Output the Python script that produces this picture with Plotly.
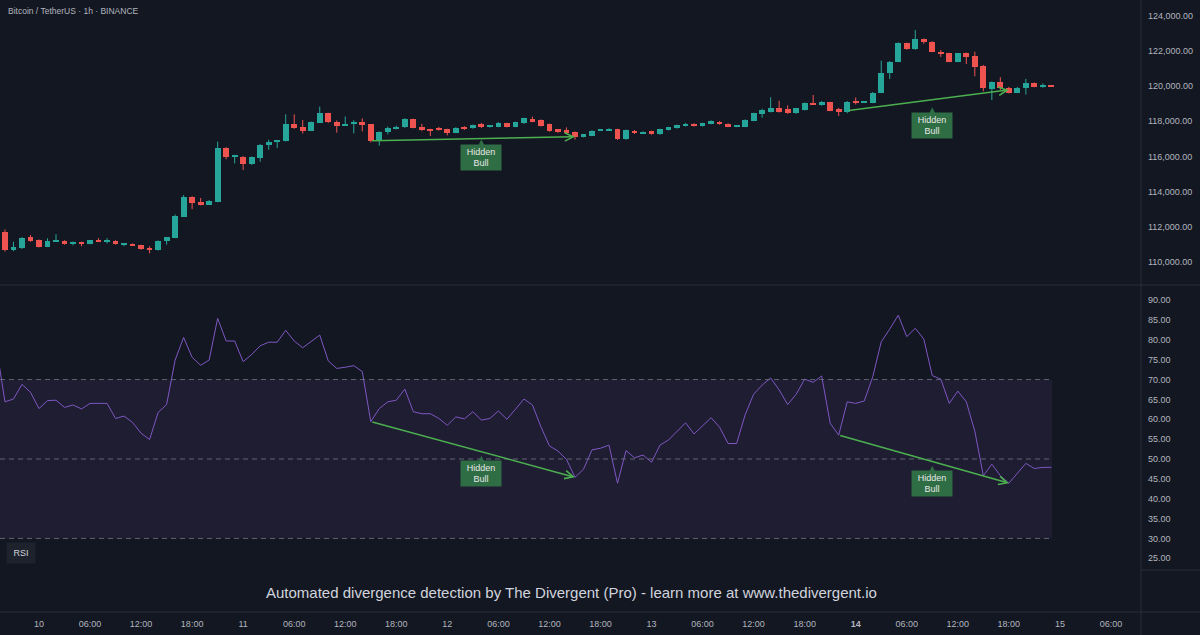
import plotly.graph_objects as go
import pandas as pd

# ---------------- data ----------------
title_text = "Bitcoin / TetherUS · 1h · BINANCE"
watermark_text = "Automated divergence detection by The Divergent (Pro) - learn more at www.thedivergent.io"

candle_start = "2025-07-09 20:00"
opens = [111720, 110690, 110780, 111400, 111250, 110870, 111190, 111200, 111020, 111140,
         111040, 111230, 111190, 111210, 111010, 111030, 110950, 110820, 110700, 111210,
         111380, 112580, 113710, 113410, 113260, 113430, 116500, 115990, 115990, 115550,
         115930, 116650, 116840, 116880, 117820, 117650, 117460, 117920, 118450, 117970,
         117770, 117840, 117970, 117820, 116890, 117370, 117560, 117650, 118110, 117650,
         117540, 117630, 117540, 117350, 117690, 117600, 117820, 117690, 117690, 117880,
         117690, 117880, 118120, 118070, 117840, 117540, 117500, 117400, 117120, 117180,
         117480, 117480, 117540, 116970, 117460, 117330, 117440, 117260, 117500, 117600,
         117730, 117860, 117730, 117860, 117970, 117860, 117690, 117690, 118030, 118410,
         118540, 118730, 118680, 118450, 118640, 119000, 118920, 119070, 118680, 118510,
         119120, 119090, 119050, 119620, 120720, 121380, 122430, 122090, 122670, 122520,
         121950, 121860, 121380, 121860, 121700, 121140, 119830, 120210, 119870, 119620,
         119900, 120150, 119960, 120010]
highs = [111850, 111150, 111420, 111540, 111280, 111350, 111580, 111240, 111170, 111160,
         111260, 111360, 111360, 111240, 111070, 111060, 110980, 110900, 111230, 111430,
         112700, 113810, 113740, 113640, 113520, 116840, 116530, 116090, 116020, 116000,
         116700, 116950, 116900, 118390, 118390, 118070, 117980, 118830, 118480, 118040,
         118270, 118060, 118160, 117850, 117420, 117700, 117750, 118170, 118140, 117850,
         117570, 117680, 117570, 117660, 117720, 117810, 117900, 117760, 117950, 117910,
         117970, 118200, 118260, 118100, 117870, 117560, 117650, 117420, 117280, 117490,
         117560, 117600, 117570, 117520, 117500, 117420, 117460, 117570, 117680, 117800,
         117900, 117880, 117910, 118050, 118000, 117880, 117780, 118100, 118480, 118700,
         119360, 119160, 118900, 118760, 119060, 119490, 119150, 119100, 118760, 119150,
         119350, 119140, 119660, 121440, 121420, 122480, 122460, 123180, 122700, 122550,
         122050, 121880, 121880, 121900, 121950, 121200, 120260, 120500, 119950, 119950,
         120400, 120200, 120150, 120030]
lows = [110600, 110620, 110740, 111150, 110830, 110850, 111170, 110990, 110950, 110900,
        111010, 111150, 111060, 110990, 110900, 110920, 110700, 110500, 110650, 110990,
        111360, 112560, 113000, 113220, 113240, 113400, 115840, 115600, 115230, 115520,
        115700, 116380, 116480, 116850, 117570, 117300, 117440, 117900, 117900, 117350,
        117740, 117310, 117420, 116800, 116610, 117250, 117530, 117620, 117600, 117450,
        117160, 117470, 117200, 117320, 117500, 117570, 117620, 117640, 117660, 117650,
        117660, 117850, 117940, 117700, 117400, 117340, 117280, 116950, 117080, 117150,
        117450, 117450, 116940, 116950, 117280, 117300, 117240, 117230, 117480, 117580,
        117700, 117690, 117700, 117830, 117800, 117660, 117660, 117660, 118000, 118200,
        118500, 118490, 118420, 118420, 118610, 118920, 118880, 118570, 118300, 118450,
        118950, 119060, 119020, 119600, 120400, 121350, 122060, 122060, 122400, 121920,
        121650, 121350, 121350, 121250, 120550, 119700, 119200, 119780, 119580, 119600,
        119520, 119930, 119900, 119970]
closes = [110690, 110850, 111380, 111190, 110870, 111200, 111230, 111020, 111140, 111020,
          111240, 111190, 111230, 111010, 111040, 110940, 110760, 110700, 111200, 111400,
          112620, 113710, 113370, 113260, 113490, 116500, 115990, 116030, 115550, 115950,
          116650, 116840, 116880, 117820, 117600, 117460, 117940, 118450, 117940, 117750,
          117840, 117970, 117780, 116890, 117370, 117630, 117690, 118110, 117630, 117540,
          117500, 117500, 117310, 117630, 117560, 117780, 117650, 117730, 117880, 117690,
          117940, 118170, 117970, 117730, 117460, 117370, 117310, 117120, 117260, 117460,
          117520, 117560, 116970, 117500, 117310, 117370, 117270, 117540, 117650, 117770,
          117860, 117710, 117880, 118010, 117830, 117690, 117750, 118070, 118450, 118640,
          118750, 118520, 118450, 118730, 119020, 118950, 119110, 118600, 118510, 119070,
          119090, 119110, 119620, 120720, 121380, 122430, 122090, 122670, 122520, 121950,
          121860, 121380, 121860, 121670, 121100, 119870, 120210, 119870, 119620, 119900,
          120150, 119960, 120010, 119990]

rsi_start = "2025-07-09 19:00"
rsi_values = [78.1,
              64.4, 65.1, 68.8, 66.8, 62.7, 64.7, 64.8, 63.0, 63.6, 62.6,
              64.0, 64.0, 64.0, 60.2, 60.8, 59.2, 56.5, 54.9, 61.7, 63.7,
              74.9, 80.6, 75.6, 73.6, 74.9, 85.4, 79.7, 79.7, 74.5, 76.3,
              78.5, 79.4, 79.4, 82.4, 79.7, 78.0, 79.7, 81.2, 74.7, 72.8,
              73.1, 73.5, 72.0, 59.4, 62.7, 64.4, 64.8, 67.6, 61.9, 61.4,
              61.4, 60.2, 58.5, 60.6, 60.1, 61.9, 59.8, 60.2, 62.1, 60.0,
              62.5, 65.1, 63.6, 58.1, 53.3, 52.0, 49.9, 45.4, 47.4, 52.3,
              52.7, 53.5, 43.9, 52.1, 50.3, 51.0, 49.2, 53.5, 54.8, 56.9,
              59.1, 56.3, 58.4, 60.4, 58.0, 53.9, 53.9, 61.1, 66.3, 68.6,
              70.4, 67.4, 63.7, 66.3, 70.1, 69.3, 70.9, 59.0, 56.0, 64.4,
              64.0, 64.6, 70.7, 79.5, 82.7, 86.2, 80.8, 82.9, 80.2, 71.0,
              70.1, 64.0, 67.1, 64.4, 57.0, 45.8, 48.7, 45.8, 43.9, 46.4,
              48.9, 47.6, 47.9, 47.9]

tick_labels = ["10", "06:00", "12:00", "18:00",
               "11", "06:00", "12:00", "18:00",
               "12", "06:00", "12:00", "18:00",
               "13", "06:00", "12:00", "18:00",
               "<b>14</b>", "06:00", "12:00", "18:00",
               "15", "06:00"]
price_ticks = [110000, 112000, 114000, 116000, 118000, 120000, 122000, 124000]
rsi_ticks = [25, 30, 35, 40, 45, 50, 55, 60, 65, 70, 75, 80, 85, 90]
rsi_levels = [70, 50, 30]

# divergences: (start bar time, start value, end bar time, end value, label bar time, label value)
price_divergences = [
    ("2025-07-11 15:00", 116890, "2025-07-12 15:00", 117120, "2025-07-12 04:00", 116975),
    ("2025-07-13 23:00", 118600, "2025-07-14 18:00", 119780, "2025-07-14 09:00", 118790),
]
rsi_divergences = [
    ("2025-07-11 15:00", 59.4, "2025-07-12 15:00", 45.4, "2025-07-12 04:00", 50.8),
    ("2025-07-13 22:00", 56.0, "2025-07-14 18:00", 43.9, "2025-07-14 09:00", 48.3),
]

# ---------------- figure ----------------
BG = "#131722"
UP = "#26a69a"
DOWN = "#ef5350"
TXT = "#b2b5be"
SEP = "#2a2e39"
FONT = "Liberation Sans"

times = pd.date_range(candle_start, periods=len(opens), freq="h")
rsi_times = pd.date_range(rsi_start, periods=len(rsi_values), freq="h")

fig = go.Figure()

# wicks
for up in (True, False):
    wx, wy = [], []
    for t, o, h, l, c in zip(times, opens, highs, lows, closes):
        if (c >= o) == up:
            wx += [t, t, None]
            wy += [l, h, None]
    fig.add_trace(go.Scatter(x=wx, y=wy, mode="lines",
                             line=dict(color=UP if up else DOWN, width=1),
                             hoverinfo="skip", showlegend=False, yaxis="y"))

# bodies
body_h = [max(abs(c - o), 60) for o, c in zip(opens, closes)]
body_b = [min(o, c) if abs(c - o) >= 60 else (o + c) / 2 - 30 for o, c in zip(opens, closes)]
colors = [UP if c >= o else DOWN for o, c in zip(opens, closes)]
fig.add_trace(go.Bar(x=times, y=body_h, base=body_b, width=0.68 * 3600 * 1000,
                     marker=dict(color=colors, line=dict(width=0)),
                     showlegend=False, yaxis="y", hoverinfo="skip"))

# RSI
fig.add_trace(go.Scatter(x=rsi_times, y=rsi_values, mode="lines",
                         line=dict(color="#7e57c2", width=1),
                         showlegend=False, xaxis="x", yaxis="y2", hoverinfo="skip"))

x_start = "2025-07-09 19:25"
x_end = "2025-07-15 09:32"
band_end = times[-1] + pd.Timedelta(minutes=5)

shapes = []
shapes.append(dict(type="rect", xref="x", yref="y2", x0=x_start, x1=band_end,
                   y0=min(rsi_levels), y1=max(rsi_levels),
                   fillcolor="rgba(126,87,194,0.10)", line=dict(width=0), layer="below"))
for lv in rsi_levels:
    shapes.append(dict(type="line", xref="x", yref="y2", x0=x_start, x1=band_end,
                       y0=lv, y1=lv, line=dict(color="rgba(120,123,134,0.75)", width=1, dash="5px,4px")))

top_dom = (612 - 285) / 612
rsi_bot = (612 - 570) / 612
xr = 1200 / 1141
shapes += [
    dict(type="line", xref="paper", yref="paper", x0=0, x1=xr, y0=top_dom, y1=top_dom,
         line=dict(color=SEP, width=1)),
    dict(type="line", xref="paper", yref="paper", x0=0, x1=xr, y0=0, y1=0,
         line=dict(color=SEP, width=1)),
    dict(type="line", xref="paper", yref="paper", x0=1, x1=1, y0=-23 / 612, y1=1,
         line=dict(color=SEP, width=1)),
    dict(type="line", xref="paper", yref="paper", x0=1, x1=xr, y0=rsi_bot, y1=rsi_bot,
         line=dict(color=SEP, width=1)),
]

annotations = []
annotations.append(dict(text=title_text, xref="paper", yref="paper", x=0, y=(612 - 11) / 612,
                        xanchor="left", yanchor="middle", xshift=6, showarrow=False,
                        font=dict(family=FONT, size=8.5, color=TXT)))
annotations.append(dict(text=watermark_text, xref="paper", yref="paper", x=571 / 1141,
                        y=(612 - 592) / 612, xanchor="center", yanchor="middle", showarrow=False,
                        font=dict(family=FONT, size=15, color="#d1d4dc")))
annotations.append(dict(text="RSI", xref="paper", yref="paper", x=21.5 / 1141,
                        y=(612 - 553) / 612, xanchor="center", yanchor="middle", showarrow=False,
                        bgcolor="#1e222d", width=22, height=14, borderpad=3,
                        font=dict(family=FONT, size=9, color="#d1d4dc")))

LABEL_BG = "#2f6d44"
ARROW = "#4caf50"
for yref, divs in (("y", price_divergences), ("y2", rsi_divergences)):
    for (t0, v0, t1, v1, tl, vl) in divs:
        annotations.append(dict(xref="x", yref=yref, axref="x", ayref=yref,
                                x=t1, y=v1, ax=t0, ay=v0, text="", showarrow=True,
                                arrowhead=5, arrowsize=1.1, arrowwidth=1.5,
                                arrowcolor=ARROW, standoff=0))
        annotations.append(dict(xref="x", yref=yref, x=tl, y=vl, text="Hidden<br>Bull",
                                showarrow=True, ax=0, ay=18, arrowhead=2, arrowsize=1,
                                arrowwidth=1.6, arrowcolor=LABEL_BG, standoff=0,
                                bgcolor=LABEL_BG, width=36, height=21, borderpad=2,
                                font=dict(family=FONT, size=9, color="#e8e8e8")))

fig.update_layout(
    width=1200, height=635, autosize=False,
    margin=dict(l=0, r=59, t=0, b=23),
    paper_bgcolor=BG, plot_bgcolor=BG,
    bargap=0, showlegend=False,
    xaxis=dict(type="date", range=[x_start, x_end], anchor="free", position=0,
               tickvals=pd.date_range("2025-07-10 00:00", periods=len(tick_labels), freq="6h"),
               ticktext=tick_labels, showgrid=False, zeroline=False, showline=False,
               ticks="", ticklabelstandoff=5,
               tickfont=dict(family=FONT, size=9, color=TXT), domain=[0, 1]),
    yaxis=dict(domain=[top_dom, 1], side="right", range=[108697, 124885],
               tickvals=price_ticks, tickformat=",.2f", showgrid=False, zeroline=False,
               ticks="", ticklabelstandoff=6,
               tickfont=dict(family=FONT, size=9, color=TXT)),
    yaxis2=dict(domain=[rsi_bot, top_dom], side="right", range=[22.06, 93.8], anchor="x",
                tickvals=rsi_ticks, tickformat=".2f", showgrid=False, zeroline=False,
                ticks="", ticklabelstandoff=6,
                tickfont=dict(family=FONT, size=9, color=TXT)),
    shapes=shapes, annotations=annotations,
)

fig.write_html("out.html")
